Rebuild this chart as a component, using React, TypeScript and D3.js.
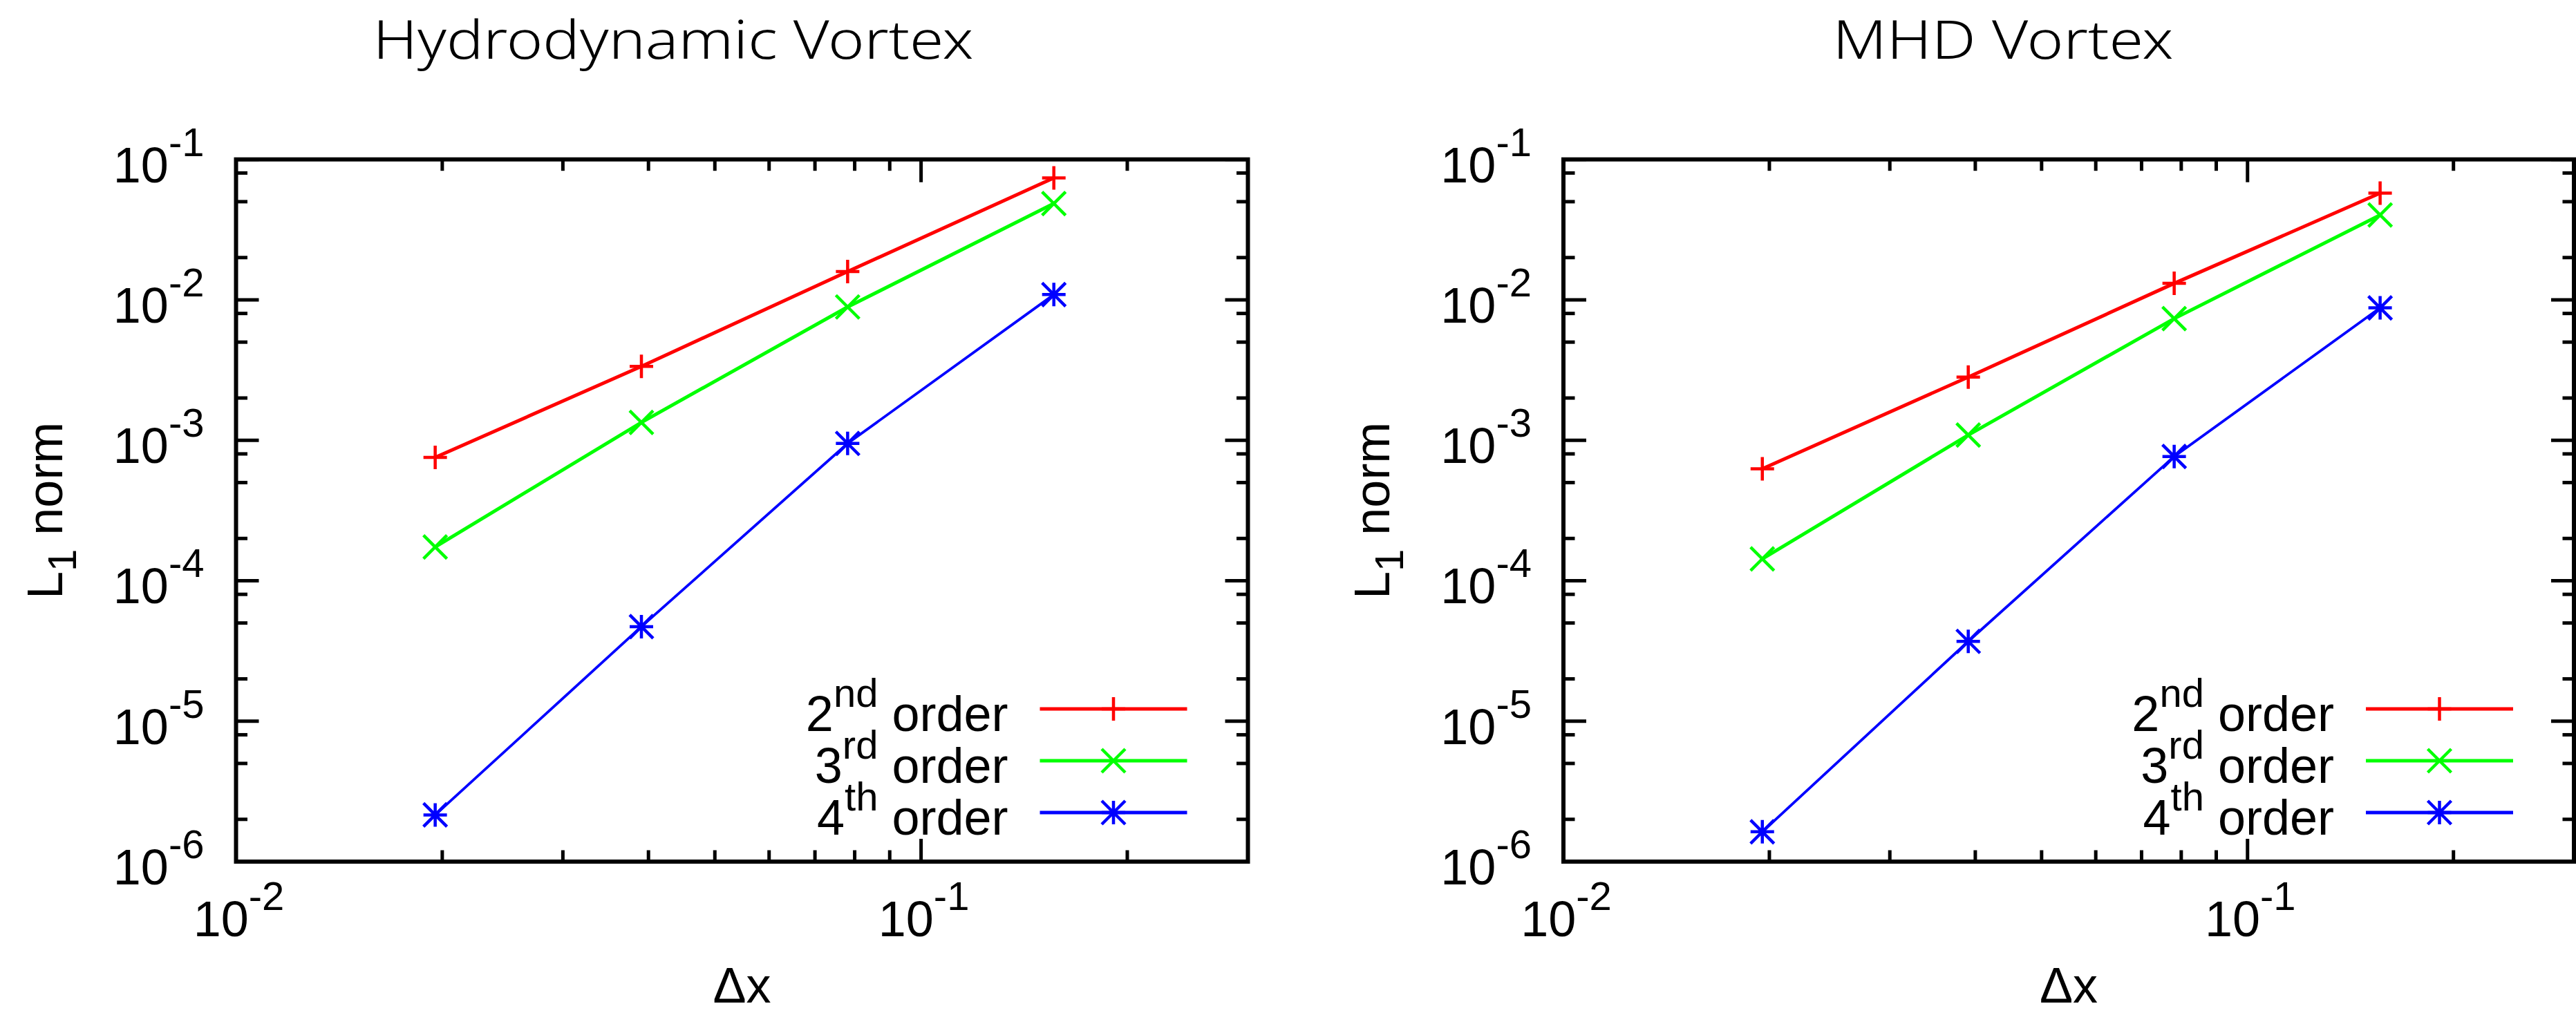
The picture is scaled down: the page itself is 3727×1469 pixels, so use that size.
import React from "react";
import * as d3 from "d3";

// Grid spacing of the four resolutions (box length 10 on 64..512 cells)
const dx = [0.01953125, 0.0390625, 0.078125, 0.15625];

// L1 error norms, hydrodynamic vortex
const hydroSecond = [7.55e-4, 3.36e-3, 1.59e-2, 7.38e-2];
const hydroThird = [1.74e-4, 1.34e-3, 8.9e-3, 4.85e-2];
const hydroFourth = [2.15e-6, 4.71e-5, 9.5e-4, 1.09e-2];

// L1 error norms, MHD vortex
const mhdSecond = [6.27e-4, 2.82e-3, 1.31e-2, 5.75e-2];
const mhdThird = [1.43e-4, 1.09e-3, 7.35e-3, 4.02e-2];
const mhdFourth = [1.63e-6, 3.7e-5, 7.67e-4, 8.77e-3];

const orderNumbers = ["2", "3", "4"];
const orderSuffixes = ["nd", "rd", "th"];
const seriesColors = ["#ff0000", "#00ff00", "#0000ff"];
const markerKinds = ["plus", "cross", "star"];

const xDomain = [0.01, 0.3];
const yDomain = [1e-6, 1e-1];
const xMajorTicks = [0.01, 0.1];
const xMajorExponents = ["-2", "-1"];
const yMajorTicks = [1e-1, 1e-2, 1e-3, 1e-4, 1e-5, 1e-6];
const yMajorExponents = ["-1", "-2", "-3", "-4", "-5", "-6"];
const xMinorMultipliers = [2, 3, 4, 5, 6, 7, 8, 9];
const yMinorMultipliers = [2, 5, 8];

const FONT = "'Liberation Sans', Arial, Helvetica, sans-serif";
const TITLE_FONT = "'Noto Sans', 'Open Sans', sans-serif";

const W = 3727;
const H = 1469;
const TOP = 230.7;
const BOTTOM = 1247;
const MAJOR = 33;
const MINOR = 16.5;
const MS = 17;

function markerPath(kind: string) {
  const plus = `M${-MS},0H${MS}M0,${-MS}V${MS}`;
  const cross = `M${-MS},${-MS}L${MS},${MS}M${-MS},${MS}L${MS},${-MS}`;
  if (kind === "plus") return plus;
  if (kind === "cross") return cross;
  return plus + cross;
}

function minorTicks(domain: number[], mults: number[]) {
  const out: number[] = [];
  for (let e = -7; e <= 0; e++) {
    for (const m of mults) {
      const v = m * Math.pow(10, e);
      if (v > domain[0] * 1.0001 && v < domain[1] * 0.9999) out.push(v);
    }
  }
  return out;
}

type PanelProps = {
  title: string;
  titleX: number;
  titleWidth: number;
  left: number;
  right: number;
  series: number[][];
};

function Panel({ title, titleX, titleWidth, left, right, series }: PanelProps) {
  const x = d3.scaleLog().domain(xDomain).range([left, right]);
  const y = d3.scaleLog().domain(yDomain).range([BOTTOM, TOP]);
  const line = d3
    .line<number>()
    .x((_, i) => x(dx[i]))
    .y((v) => y(v));

  const xMinor = minorTicks(xDomain, xMinorMultipliers);
  const yMinor = minorTicks(yDomain, yMinorMultipliers);
  const cx = (left + right) / 2;
  const cy = (TOP + BOTTOM) / 2;

  const legendRight = right - 88;
  const legendLineStart = legendRight - 213;
  const legendTextRight = legendLineStart - 46;
  const legendY0 = 1026;
  const legendStep = 75;

  const lineWidths = [5, 5, 3.8];

  return (
    <g>
      <text
        x={titleX}
        y={84.5}
        textAnchor="middle"
        fontFamily={TITLE_FONT}
        fontSize={78}
        fontWeight={300}
        textLength={titleWidth}
        lengthAdjust="spacingAndGlyphs"
        fill="#000"
      >
        {title}
      </text>

      {/* data */}
      {series.map((vals, s) => (
        <g key={s}>
          <path
            d={line(vals) || ""}
            fill="none"
            stroke={seriesColors[s]}
            strokeWidth={lineWidths[s]}
          />
          {vals.map((v, i) => (
            <path
              key={i}
              transform={`translate(${x(dx[i])},${y(v)})`}
              d={markerPath(markerKinds[s])}
              fill="none"
              stroke={seriesColors[s]}
              strokeWidth={4.5}
            />
          ))}
        </g>
      ))}

      {/* ticks, mirrored on all four sides */}
      <g stroke="#000" strokeWidth={5}>
        {xMajorTicks.map((t, i) => (
          <g key={`xM${i}`}>
            <line x1={x(t)} x2={x(t)} y1={BOTTOM} y2={BOTTOM - MAJOR} />
            <line x1={x(t)} x2={x(t)} y1={TOP} y2={TOP + MAJOR} />
          </g>
        ))}
        {xMinor.map((t, i) => (
          <g key={`xm${i}`}>
            <line x1={x(t)} x2={x(t)} y1={BOTTOM} y2={BOTTOM - MINOR} />
            <line x1={x(t)} x2={x(t)} y1={TOP} y2={TOP + MINOR} />
          </g>
        ))}
        {yMajorTicks.map((t, i) => (
          <g key={`yM${i}`}>
            <line x1={left} x2={left + MAJOR} y1={y(t)} y2={y(t)} />
            <line x1={right} x2={right - MAJOR} y1={y(t)} y2={y(t)} />
          </g>
        ))}
        {yMinor.map((t, i) => (
          <g key={`ym${i}`}>
            <line x1={left} x2={left + MINOR} y1={y(t)} y2={y(t)} />
            <line x1={right} x2={right - MINOR} y1={y(t)} y2={y(t)} />
          </g>
        ))}
      </g>

      {/* frame */}
      <rect
        x={left}
        y={TOP}
        width={right - left}
        height={BOTTOM - TOP}
        fill="none"
        stroke="#000"
        strokeWidth={6}
      />

      {/* tick labels */}
      <g fontFamily={FONT} fontSize={72} fill="#000">
        {yMajorTicks.map((t, i) => (
          <text key={`yl${i}`} x={left - 46} y={y(t) + 33} textAnchor="end">
            10
            <tspan dy={-38} fontSize={58}>
              {yMajorExponents[i]}
            </tspan>
          </text>
        ))}
        {xMajorTicks.map((t, i) => (
          <text key={`xl${i}`} x={x(t) + 4} y={BOTTOM + 108} textAnchor="middle">
            10
            <tspan dy={-38} fontSize={58}>
              {xMajorExponents[i]}
            </tspan>
          </text>
        ))}
      </g>

      {/* axis titles */}
      <text
        x={cx}
        y={1451}
        textAnchor="middle"
        fontFamily={FONT}
        fontSize={72}
        fill="#000"
      >
        Δx
      </text>
      <text
        transform={`translate(${left - 252},${cy}) rotate(-90)`}
        textAnchor="middle"
        fontFamily={FONT}
        fontSize={72}
        fill="#000"
        style={{ whiteSpace: "pre" }}
      >
        L
        <tspan dy={20} fontSize={58}>
          1
        </tspan>
        <tspan dy={-20}> norm</tspan>
      </text>

      {/* legend */}
      {series.map((_, s) => {
        const ly = legendY0 + s * legendStep;
        return (
          <g key={`lg${s}`}>
            <text
              x={legendTextRight}
              y={ly + 32}
              textAnchor="end"
              fontFamily={FONT}
              fontSize={72}
              fill="#000"
              style={{ whiteSpace: "pre" }}
            >
              {orderNumbers[s]}
              <tspan dy={-35} fontSize={58}>
                {orderSuffixes[s]}
              </tspan>
              <tspan dy={35} fontSize={72}>
                {" order"}
              </tspan>
            </text>
            <line
              x1={legendLineStart}
              x2={legendRight}
              y1={ly}
              y2={ly}
              stroke={seriesColors[s]}
              strokeWidth={5}
            />
            <path
              transform={`translate(${(legendLineStart + legendRight) / 2},${ly})`}
              d={markerPath(markerKinds[s])}
              fill="none"
              stroke={seriesColors[s]}
              strokeWidth={4.5}
            />
          </g>
        );
      })}
    </g>
  );
}

export default function App() {
  return (
    <svg
      width={W}
      height={H}
      viewBox={`0 0 ${W} ${H}`}
      style={{ position: "absolute", left: 0, top: 0, background: "#fff" }}
    >
      <rect width={W} height={H} fill="#fff" />
      <Panel
        title="Hydrodynamic Vortex"
        titleX={974}
        titleWidth={869}
        left={341.5}
        right={1805.5}
        series={[hydroSecond, hydroThird, hydroFourth]}
      />
      <Panel
        title="MHD Vortex"
        titleX={2898}
        titleWidth={493}
        left={2262}
        right={3724}
        series={[mhdSecond, mhdThird, mhdFourth]}
      />
    </svg>
  );
}
